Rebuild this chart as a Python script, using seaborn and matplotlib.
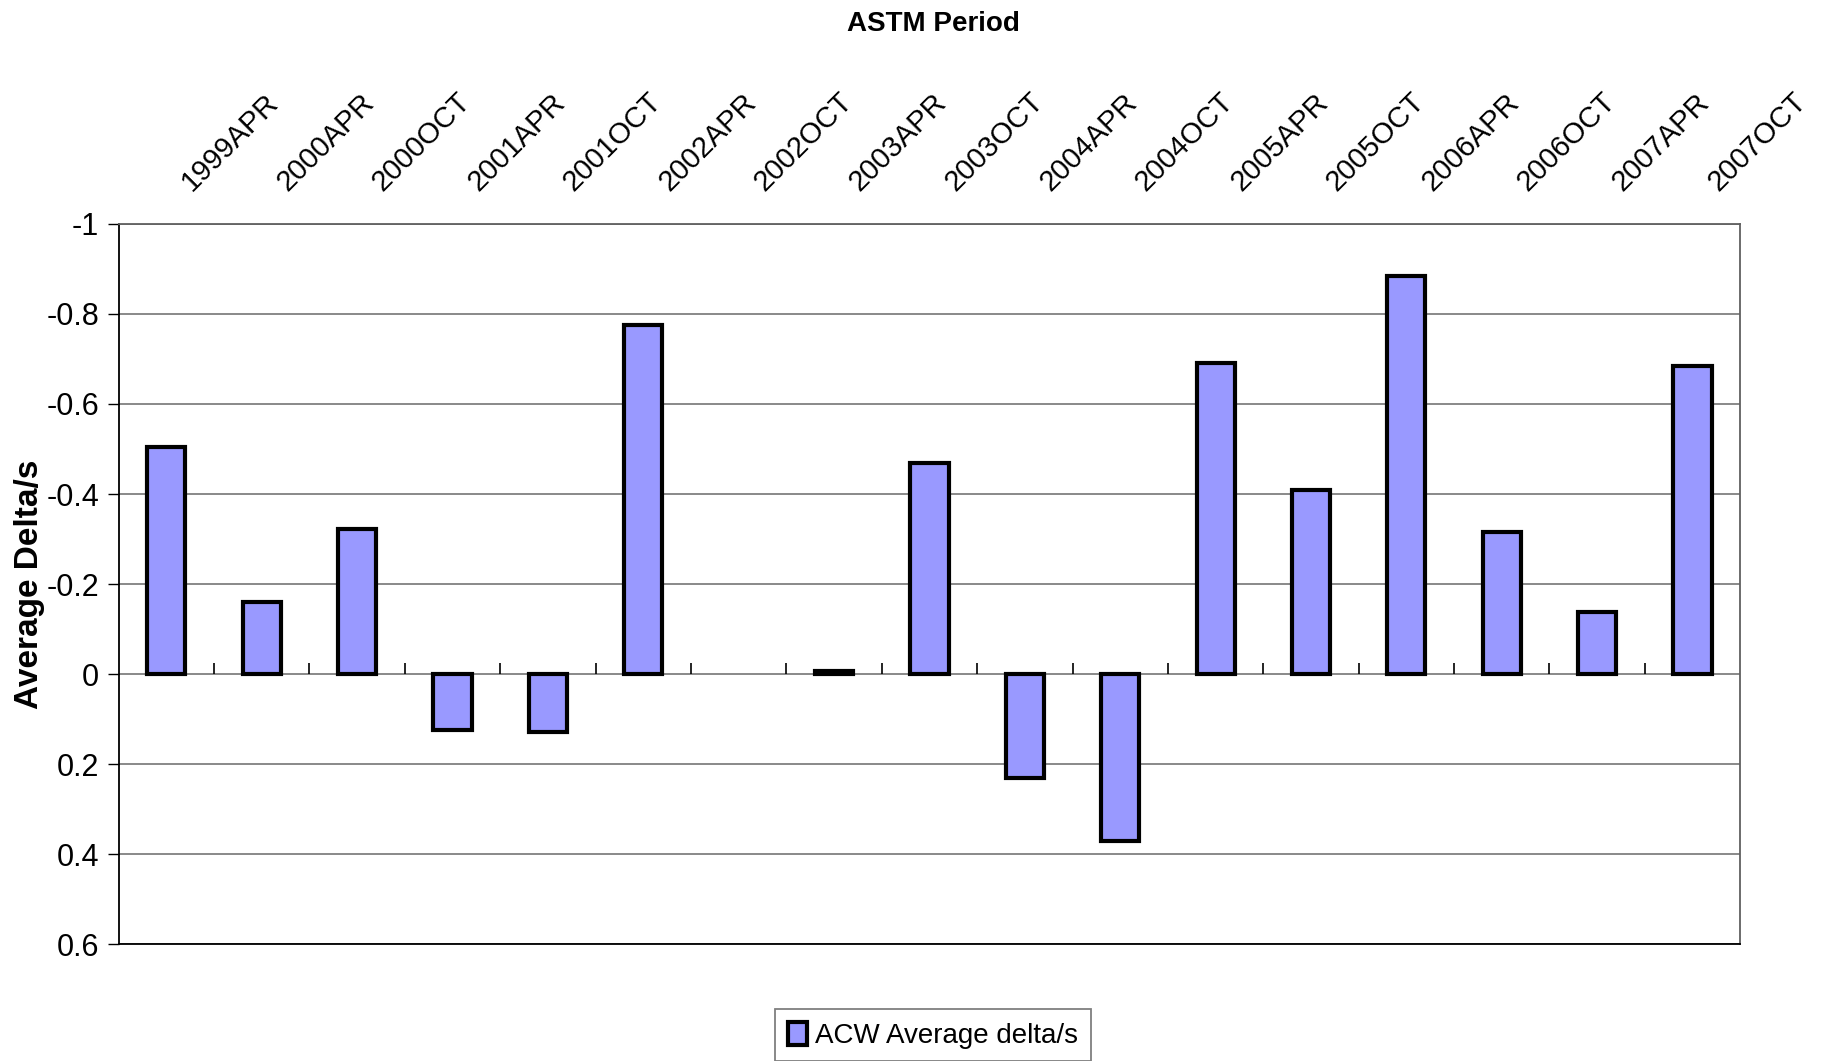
import numpy as np
import pandas as pd
import matplotlib
matplotlib.use("Agg")
import matplotlib.pyplot as plt
import matplotlib.transforms as mtransforms
import seaborn as sns

# ---- data ----
periods = ["1999APR", "2000APR", "2000OCT", "2001APR", "2001OCT", "2002APR",
           "2002OCT", "2003APR", "2003OCT", "2004APR", "2004OCT", "2005APR",
           "2005OCT", "2006APR", "2006OCT", "2007APR", "2007OCT"]
avg_delta = [-0.504, -0.160, -0.323, 0.124, 0.129, -0.775,
             np.nan, -0.008, -0.468, 0.230, 0.370, -0.690,
             -0.408, -0.884, -0.315, -0.137, -0.685]
y_ticks = [-1.0, -0.8, -0.6, -0.4, -0.2, 0.0, 0.2, 0.4, 0.6]
y_tick_labels = ["-1", "-0.8", "-0.6", "-0.4", "-0.2", "0", "0.2", "0.4", "0.6"]
series_name = "ACW Average delta/s"
title = "ASTM Period"
y_label = "Average Delta/s"

sns.set_theme(style="white")
plt.rcParams["font.family"] = ["Liberation Sans", "DejaVu Sans"]
for key in ["text.color", "axes.labelcolor", "xtick.color", "ytick.color"]:
    plt.rcParams[key] = "black"

df = pd.DataFrame({"period": periods, "value": avg_delta})

fig = plt.figure(figsize=(18.26, 10.61), dpi=100)
ax = fig.add_axes([0.065, 0.110, 0.888, 0.679])

sns.barplot(data=df, x="period", y="value", order=periods, color="#9999FF",
            saturation=1, edgecolor="black", linewidth=3, width=0.4,
            errorbar=None, ax=ax, label=series_name)

ax.set_ylim(0.6, -1.0)
ax.set_xlim(-0.5, len(periods) - 0.5)
ax.set_yticks(y_ticks)
ax.set_yticklabels(y_tick_labels, fontsize=22)
ax.yaxis.grid(True, color="#808080", linewidth=1.3)
ax.set_axisbelow(True)

# category boundary ticks on the zero line
bounds = np.arange(len(periods) - 1) + 0.5
ax.vlines(bounds, 0, -0.024, color="black", linewidth=1.2, zorder=1)

# x labels at top
ax.xaxis.tick_top()
ax.set_xlabel("")
ax.tick_params(axis="x", length=0, pad=20)
offset = mtransforms.ScaledTranslation(0.30, 0, fig.dpi_scale_trans)
ax.set_xticks(range(len(periods)))
ax.set_xticklabels(periods, rotation=45, ha="left", va="bottom",
                   rotation_mode="anchor", fontsize=21)
for lab in ax.get_xticklabels():
    lab.set_transform(lab.get_transform() + offset)

ax.tick_params(axis="y", left=True, length=8, width=1, color="black", pad=6)
ax.set_ylabel("")
fig.text(0.016, 0.110 + 0.679 / 2, y_label, rotation=90, ha="center", va="center",
         fontsize=24, fontweight="bold")

for side in ["left", "bottom"]:
    ax.spines[side].set_color("black")
    ax.spines[side].set_linewidth(1.3)
for side in ["top", "right"]:
    ax.spines[side].set_color("#606060")
    ax.spines[side].set_linewidth(1.3)

fig.text(0.511, 0.99, title, ha="center", va="top", fontsize=20, fontweight="bold")

leg = ax.legend(loc="upper center", bbox_to_anchor=(0.511, 0.049),
                bbox_transform=fig.transFigure, fontsize=20, frameon=True,
                fancybox=False, handlelength=0.7, handleheight=0.9,
                handletextpad=0.3, borderpad=0.45, borderaxespad=0)
leg.get_frame().set_edgecolor("#606060")
leg.get_frame().set_linewidth(1.3)

fig.savefig("out.png", dpi=100)
